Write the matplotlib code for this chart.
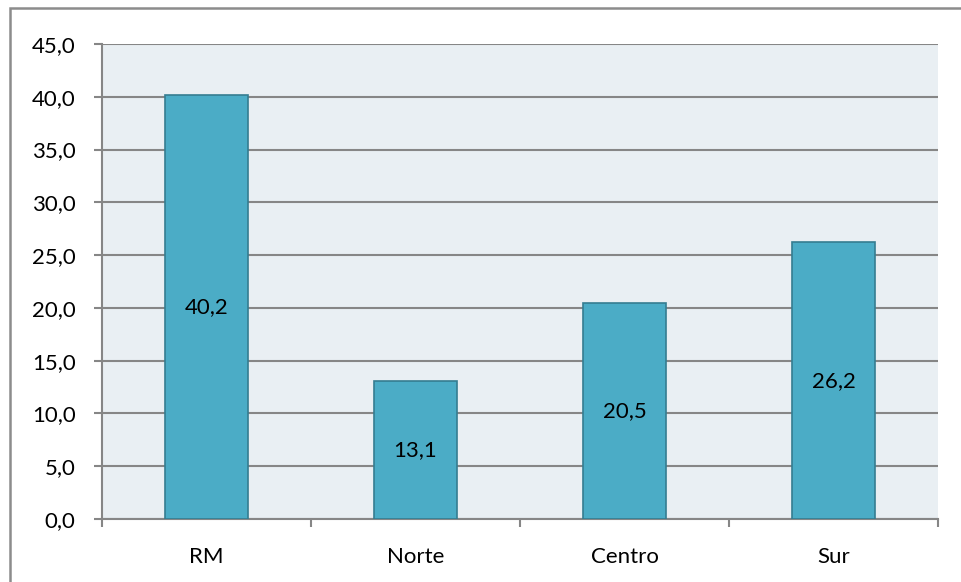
import matplotlib
matplotlib.use("Agg")
import matplotlib.pyplot as plt
from matplotlib.patches import Rectangle

regions = ["RM", "Norte", "Centro", "Sur"]
values = [40.2, 13.1, 20.5, 26.2]
yticks = [0, 5, 10, 15, 20, 25, 30, 35, 40, 45]

plt.rcParams['font.family'] = ['Lato', 'DejaVu Sans']

fig = plt.figure(figsize=(9.61, 5.82), dpi=100)
# outer chart frame: only the top and left edges fall inside the picture
fig.patches.append(Rectangle((10/961, -10/582), 970/961, 584/582, transform=fig.transFigure,
                             fill=False, edgecolor='#8c8c8c', linewidth=1.8))
ax = fig.add_axes([102/961, 63/582, 836/961, 475/582])
ax.set_facecolor('#e9eff3')

x = list(range(len(regions)))
ax.bar(x, values, width=0.4, color='#4bacc6', edgecolor='#357d91', linewidth=1.2, zorder=3)
for xi, v in zip(x, values):
    ax.text(xi, v / 2, f"{v:.1f}".replace('.', ','), ha='center', va='center', fontsize=16, zorder=4)

ax.set_xlim(-0.5, 3.5)
ax.set_ylim(0, 45)
ax.set_yticks(yticks)
ax.set_yticklabels([f"{t:.1f}".replace('.', ',') for t in yticks], fontsize=16)
ax.yaxis.grid(True, color='#868686', linewidth=1.5, zorder=1)
ax.set_axisbelow(True)

ax.set_xticks([i - 0.5 for i in range(len(regions) + 1)])
ax.set_xticklabels([])
ax.set_xticks(x, minor=True)
ax.set_xticklabels(regions, minor=True, fontsize=16)
ax.tick_params(axis='x', which='minor', length=0, pad=20)
ax.tick_params(axis='x', which='major', length=6, width=1.5, color='#868686')
ax.tick_params(axis='y', length=6, width=1.5, color='#868686', pad=13)

for s in ['top', 'right']:
    ax.spines[s].set_visible(False)
for s in ['left', 'bottom']:
    ax.spines[s].set_color('#868686')
    ax.spines[s].set_linewidth(1.5)

fig.savefig('out.png')
